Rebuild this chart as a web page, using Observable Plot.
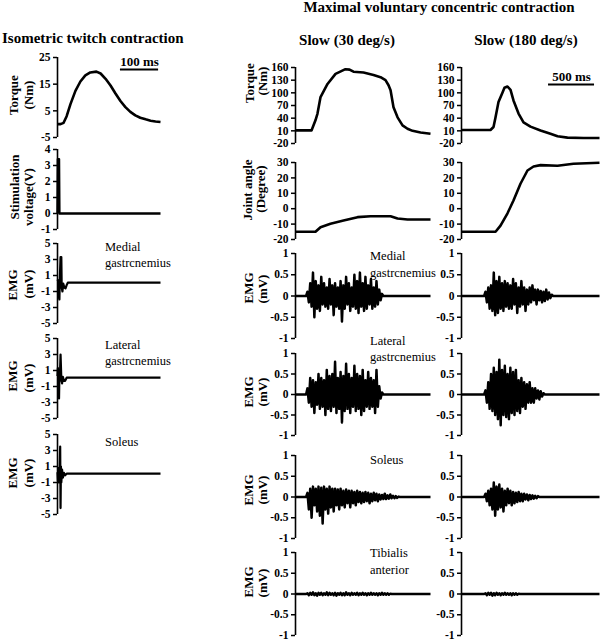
<!DOCTYPE html>
<html><head><meta charset="utf-8">
<script src="https://cdn.jsdelivr.net/npm/d3@7"></script>
<script src="https://cdn.jsdelivr.net/npm/@observablehq/plot@0.6"></script>
<style>
html,body{margin:0;padding:0;background:#fff;overflow:hidden;}
#fig{position:relative;width:600px;height:641px;overflow:hidden;font-family:"Liberation Serif","Times New Roman",serif;color:#000;}
#fig svg text{font-weight:bold;}
.t{position:absolute;white-space:nowrap;line-height:1;}
.b{font-weight:bold;}
.c{transform:translate(-50%,-50%);}
.l{transform:translate(0,-50%);}
.r{transform:translate(-50%,-50%) rotate(-90deg);}
</style></head><body><div id="fig"></div>
<script>
// ---------- Data ----------
// Isometric twitch (time in ms)
const twitchTime   = [0,8,16,24,34,47,60,73,86,102,113,126,139,152,165,178,191,204,217,231,244,257,270];
const twitchTorque = [0,0,0.5,3,7.5,12.5,16,18.3,19.4,19.7,19,17,14.5,11.5,8.7,6.4,4.6,3.3,2.4,1.8,1.3,1.0,0.8];
const stimTime = [0,1,4,5,270];
const stimVolt = [0,3.4,3.4,0,0];
const twMGTime = [0,2,3,5,6,8,10,11,13,15,18,21,24,27,270];
const twMG     = [0.5,0.3,-1.5,-2,0.5,3.3,3.3,-0.5,-1,0,-0.5,-0.6,-0.2,0.1,0.1];
const twLGTime = [0,1,2,3,4,5,6,8,10,12,14,17,20,24,270];
const twLG     = [0.3,1.3,0,-0.5,-2.5,0.5,-0.3,3.0,0,-0.6,0.2,-0.3,-0.3,0.1,0.1];
const twSOLTime = [0,1,2,3,4,5,7,8,9,10,12,14,17,20,24,270];
const twSOL     = [0.3,-0.8,0.8,-1,0.5,-0.5,3.5,-4.2,1,-1,0.6,-0.4,0.2,-0.1,0.1,0.1];

// Maximal voluntary concentric contraction (time in ms)
const slowTorqueTime = [0,174,217,239,272,348,435,543,587,630,739,848,924,978,1011,1033,1065,1109,1163,1217,1272,1359,1467];
const slowTorque     = [11,11,35,51,90,121,145,156,155,150,148,142,137,130,118,106,66,42,23,15,10,6,3];
const fastTorqueTime = [0,315,348,370,402,446,467,500,533,565,620,674,750,859,967,1044,1152,1326,1500];
const fastTorque     = [12,12,19,42,78,101,112,115,107,82,51,30,20,11,3,-3,-6,-7,-7];
const slowAngleTime = [0,217,272,380,522,674,815,1033,1109,1217,1467];
const slowAngle     = [-15,-15,-12,-9.8,-7.7,-5.5,-4.9,-4.9,-6.4,-7,-7];
const fastAngleTime = [0,370,424,500,565,641,717,783,859,1044,1217,1500];
const fastAngle     = [-15,-15,-11,-3,5.3,16.2,24.8,27.4,28.3,27.9,29.2,29.8];

// EMG bursts (mV), sampled every 15 ms from burst onset
const emgStep = 15;
const slowOnset = 130, fastOnset = 261;
const mgSlow = [0.1,-0.15,0.3,-0.25,0.55,-0.5,0.35,-0.3,0.25,-0.35,0.45,-0.2,0.3,-0.25,0.2,-0.3,0.4,-0.2,0.25,-0.45,0.3,-0.25,0.2,-0.3,0.35,-0.6,0.25,-0.3,0.45,-0.2,0.3,-0.35,0.2,-0.25,0.5,-0.3,0.35,-0.4,0.55,-0.25,0.3,-0.35,0.45,-0.3,0.25,-0.2,0.4,-0.3,0.2,-0.25,0.35,-0.2,0.15,-0.1,0.05];
const mgFast = [0.1,-0.15,0.2,-0.3,0.25,-0.35,0.55,-0.45,0.35,-0.4,0.45,-0.3,0.3,-0.35,0.35,-0.25,0.3,-0.3,0.25,-0.3,0.4,-0.2,0.3,-0.4,0.2,-0.25,0.35,-0.2,0.2,-0.35,0.15,-0.2,0.2,-0.15,0.25,-0.1,0.15,-0.2,0.15,-0.1,0.12,-0.15,0.1,-0.12,0.15,-0.08,0.08,-0.05,0.03];
const lgSlow = [0.15,-0.2,0.4,-0.3,0.35,-0.45,0.3,-0.25,0.5,-0.35,0.4,-0.3,0.35,-0.5,0.6,-0.35,0.45,-0.4,0.5,-0.3,0.8,-0.45,0.4,-0.35,0.55,-0.68,0.45,-0.4,0.75,-0.35,0.5,-0.45,0.4,-0.3,0.7,-0.4,0.5,-0.35,0.45,-0.5,0.6,-0.4,0.35,-0.3,0.55,-0.35,0.4,-0.3,0.35,-0.45,0.6,-0.3,0.2,-0.1,0.05];
const lgFast = [0.1,-0.2,0.3,-0.35,0.5,-0.4,0.65,-0.5,0.55,-0.6,0.85,-0.75,0.6,-0.5,0.7,-0.55,0.5,-0.6,0.65,-0.45,0.55,-0.5,0.6,-0.4,0.35,-0.45,0.4,-0.3,0.3,-0.35,0.25,-0.2,0.3,-0.2,0.15,-0.2,0.15,-0.1,0.1,-0.12,0.08,-0.05,0.03];
const solSlow = [0.1,-0.3,0.2,-0.5,0.25,-0.2,0.2,-0.35,0.25,-0.45,0.22,-0.64,0.25,-0.3,0.2,-0.4,0.25,-0.25,0.2,-0.35,0.2,-0.2,0.18,-0.3,0.2,-0.2,0.15,-0.25,0.18,-0.15,0.15,-0.25,0.15,-0.15,0.12,-0.2,0.15,-0.12,0.12,-0.15,0.1,-0.12,0.12,-0.1,0.1,-0.15,0.08,-0.1,0.1,-0.08,0.08,-0.1,0.06,-0.06,0.05,-0.05,0.08,-0.05,0.04,-0.04,0.06,-0.03,0.03,-0.03,0.02,-0.02,0.01];
const solFast = [0.08,-0.1,0.15,-0.2,0.2,-0.3,0.35,-0.45,0.25,-0.3,0.3,-0.25,0.2,-0.35,0.15,-0.2,0.2,-0.15,0.15,-0.2,0.12,-0.15,0.1,-0.12,0.12,-0.1,0.08,-0.1,0.08,-0.06,0.06,-0.08,0.05,-0.05,0.04,-0.04,0.03,-0.03,0.02];
const taSlow = [0.02,-0.03,0.03,-0.02,0.04,-0.03,0.02,-0.04,0.03,-0.02,0.03,-0.03,0.02,-0.02,0.04,-0.03,0.03,-0.02,0.02,-0.03,0.03,-0.04,0.02,-0.02,0.03,-0.03,0.02,-0.03,0.04,-0.02,0.02,-0.03,0.03,-0.02,0.02,-0.02,0.03,-0.03,0.02,-0.02,0.03,-0.02,0.02,-0.03,0.02,-0.02,0.03,-0.02,0.02,-0.02,0.02,-0.03,0.02,-0.02,0.03,-0.02,0.02,-0.02,0.02,-0.02,0.01];
const taFast = [0.02,-0.03,0.03,-0.02,0.03,-0.04,0.02,-0.03,0.03,-0.02,0.02,-0.03,0.02,-0.02,0.03,-0.02,0.02,-0.02,0.02,-0.03,0.02,-0.02,0.02,-0.02,0.01];

// Tick labels
const twTorqueTicks = [-5,5,15,25];
const stimTicks = [-1,0,1,2,3,4];
const twEmgTicks = [-5,-3,-1,1,3,5];
const mvcTorqueTicks = [-20,10,40,70,100,130,160];
const angleTicks = [-20,-10,0,10,20,30];
const mvcEmgTicks = [-1,-0.5,0,0.5,1];

// Scale bars
const twitchBar = {x1:165, x2:265, y:20.5, ty:23.2, label:"100 ms"};
const mvcBar = {x1:946, x2:1446, y:120, ty:139, label:"500 ms"};

// ---------- Helpers ----------
const zip = (ts, vs) => ts.map((t,i) => ({t, v: vs[i]}));
function burst(onset, values, end) {
  const pts = [{t:0, v:0}, {t:onset - emgStep, v:0}];
  values.forEach((v,i) => pts.push({t: onset + i*emgStep, v}));
  pts.push({t: onset + values.length*emgStep, v:0}, {t:end, v:0});
  return pts;
}
const fig = document.getElementById("fig");
function txt(s, x, y, cls, size) {
  const d = document.createElement("div");
  d.className = "t " + cls;
  d.style.left = x + "px"; d.style.top = y + "px"; d.style.fontSize = size + "px";
  d.textContent = s;
  fig.appendChild(d);
}
function panel(cfg) {
  const mL = 40, mR = 1, mT = 6, mB = 5;
  const w = mL + (cfg.x1 - cfg.x0) + mR;
  const h = mT + (cfg.y1 - cfg.y0) + mB;
  const marks = [
    Plot.axisY({ticks: cfg.ticks, label: null, tickSize: 4, tickPadding: 3, tickFormat: d => String(d), strokeWidth: 1.5, fontWeight: "bold", fontSize: cfg.fs || 11.5}),
    Plot.ruleX([cfg.xd[0]], {strokeWidth: 1.6}),
    Plot.line(cfg.data, {x: "t", y: "v", stroke: "black", strokeWidth: cfg.sw, strokeLinejoin: "round", strokeLinecap: "butt"})
  ];
  if (cfg.bar) {
    const b = cfg.bar;
    marks.push(Plot.ruleY([b], {y: "y", x1: "x1", x2: "x2", strokeWidth: 2}));
    marks.push(Plot.text([b], {x: d => (d.x1 + d.x2)/2, y: "ty", text: "label", fontSize: 13, fontWeight: "bold"}));
  }
  const p = Plot.plot({
    width: w, height: h, marginLeft: mL, marginRight: mR, marginTop: mT, marginBottom: mB,
    style: {fontFamily: "Liberation Serif, Times New Roman, serif", fontSize: "11.5px", fontWeight: "bold", background: "transparent", overflow: "visible", color: "black"},
    x: {domain: cfg.xd, axis: null},
    y: {domain: cfg.yd, axis: null},
    marks
  });
  p.style.position = "absolute";
  p.style.left = (cfg.x0 - mL) + "px";
  p.style.top = (cfg.y0 - mT) + "px";
  fig.appendChild(p);
}

// ---------- Left column: isometric twitch ----------
const L = {x0: 57, x1: 160, xd: [0, 270], fs: 11.5};
panel({...L, y0: 57, y1: 137, yd: [-5, 25], ticks: twTorqueTicks, data: zip(twitchTime, twitchTorque), sw: 2.6, bar: twitchBar});
panel({...L, y0: 149, y1: 229, yd: [-1, 4], ticks: stimTicks, data: zip(stimTime, stimVolt), sw: 2.4});
panel({...L, y0: 243, y1: 323, yd: [-5, 5], ticks: twEmgTicks, data: zip(twMGTime, twMG), sw: 2.2});
panel({...L, y0: 338, y1: 418, yd: [-5, 5], ticks: twEmgTicks, data: zip(twLGTime, twLG), sw: 2.2});
panel({...L, y0: 434, y1: 514, yd: [-5, 5], ticks: twEmgTicks, data: zip(twSOLTime, twSOL), sw: 2.2});

// ---------- Middle / right columns: MVC ----------
const M = {x0: 295, x1: 430, xd: [0, 1467]};
const R = {x0: 461, x1: 599, xd: [0, 1500]};
const rows = [
  {y0: 67, y1: 143, yd: [-20, 160], ticks: mvcTorqueTicks, sw: 2.6},
  {y0: 162, y1: 239, yd: [-20, 30], ticks: angleTicks, sw: 2.6},
  {y0: 253, y1: 338, yd: [-1, 1], ticks: mvcEmgTicks, sw: 2.5},
  {y0: 353, y1: 435, yd: [-1, 1], ticks: mvcEmgTicks, sw: 2.5},
  {y0: 455, y1: 538, yd: [-1, 1], ticks: mvcEmgTicks, sw: 2.5},
  {y0: 552, y1: 635, yd: [-1, 1], ticks: mvcEmgTicks, sw: 2.4}
];
const slowData = [zip(slowTorqueTime, slowTorque), zip(slowAngleTime, slowAngle),
  burst(slowOnset, mgSlow, 1467), burst(slowOnset, lgSlow, 1467), burst(slowOnset, solSlow, 1467), burst(slowOnset, taSlow, 1467)];
const fastData = [zip(fastTorqueTime, fastTorque), zip(fastAngleTime, fastAngle),
  burst(fastOnset, mgFast, 1500), burst(fastOnset, lgFast, 1500), burst(fastOnset, solFast, 1500), burst(fastOnset, taFast, 1500)];
rows.forEach((r, i) => {
  panel({...M, ...r, data: slowData[i]});
  panel({...R, ...r, data: fastData[i], bar: i === 0 ? mvcBar : null});
});

// ---------- Titles ----------
txt("Isometric twitch contraction", 2, 38, "b l", 15);
txt("Maximal voluntary concentric contraction", 439, 7, "b c", 15);
txt("Slow (30 deg/s)", 347, 40, "b c", 15);
txt("Slow (180 deg/s)", 526, 40, "b c", 15);

// ---------- Axis titles ----------
const yLabels = [
  ["Torque", 13, 95], ["(Nm)", 28, 95],
  ["Stimulation", 14, 187], ["voltage(V)", 28, 197],
  ["EMG", 12, 285], ["(mV)", 28, 284],
  ["EMG", 12, 376], ["(mV)", 28, 378],
  ["EMG", 12, 473], ["(mV)", 28, 473],
  ["Torque", 249, 83], ["(Nm)", 262, 81],
  ["Joint angle", 247, 190], ["(Degree)", 260, 189],
  ["EMG", 248, 288], ["(mV)", 262, 289],
  ["EMG", 248, 392], ["(mV)", 262, 392],
  ["EMG", 248, 490], ["(mV)", 262, 490],
  ["EMG", 248, 582], ["(mV)", 262, 583]
];
yLabels.forEach(([s, x, y]) => txt(s, x, y, "b r", 13));

// ---------- Muscle annotations ----------
const muscleNotes = [
  ["Medial", 105, 247], ["gastrcnemius", 105, 263],
  ["Lateral", 105, 345], ["gastrcnemius", 105, 361],
  ["Soleus", 105, 442],
  ["Medial", 370, 256], ["gastrcnemius", 370, 273],
  ["Lateral", 370, 341], ["gastrcnemius", 370, 357],
  ["Soleus", 370, 460],
  ["Tibialis", 370, 553], ["anterior", 370, 570]
];
muscleNotes.forEach(([s, x, y]) => txt(s, x, y, "l", 12.5));
</script></body></html>
